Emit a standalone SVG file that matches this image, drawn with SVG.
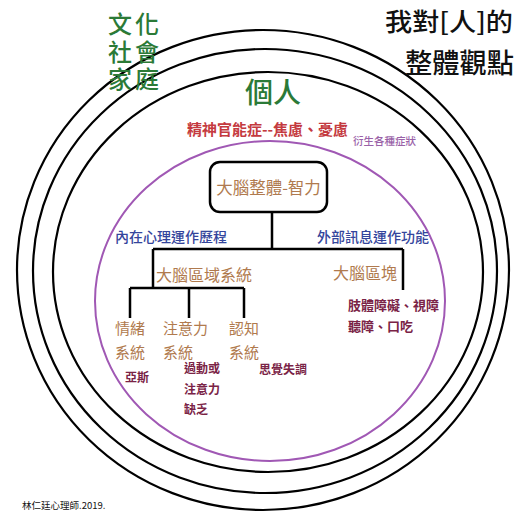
<svg xmlns="http://www.w3.org/2000/svg" width="526" height="526" viewBox="0 0 526 526">
<style>
text{font-family:"Noto Sans CJK TC","Noto Sans CJK SC",sans-serif}
.ring{fill:none;stroke:#000;stroke-width:2.2}
.inner{fill:none;stroke:#a058b4;stroke-width:2}
.ln{stroke:#000;stroke-width:2.5;fill:none}
.green{fill:#2b7a37;font-size:24px;font-weight:500;letter-spacing:3px}
.stack{font-family:"Liberation Sans","Noto Sans CJK TC","Noto Sans CJK SC",sans-serif}
.title{fill:#111;font-size:25px;font-weight:500}
.red{fill:#c43a3f;font-size:15px;font-weight:700}
.mauve{fill:#9a62a8;font-size:10.5px;font-weight:500}
.brown{fill:#b07a4e;font-size:16px}
.brown2{fill:#b07a4e;font-size:15px}
.navy{fill:#34459c;font-size:14px;font-weight:500}
.maroon{fill:#7a2346;font-size:12px;font-weight:700}
.maroon2{fill:#7a2346;font-size:13px;font-weight:700}
</style>
<rect width="526" height="526" fill="#fff"/>
<g id="rings">
<ellipse class="ring" cx="263" cy="270" rx="246" ry="240"/>
<ellipse class="ring" cx="265" cy="271" rx="232" ry="222"/>
<ellipse class="ring" cx="268" cy="272" rx="215" ry="200"/>
<ellipse class="inner" cx="270" cy="301" rx="175" ry="160"/>
</g>
<g id="culture">
<text class="green stack" x="108" y="33">文化</text>
<text class="green stack" x="108" y="60.5">社會</text>
<text class="green stack" x="108" y="88">家庭</text>
</g>
<g id="individual"><text class="green" x="245" y="103" style="font-size:28px;letter-spacing:0">個人</text></g>
<g id="title">
<text class="title" x="385" y="30.5" textLength="128" lengthAdjust="spacingAndGlyphs">我對[人]的</text>
<text class="title" x="405" y="72.5" style="font-size:27px" textLength="109" lengthAdjust="spacingAndGlyphs">整體觀點</text>
</g>
<g id="neurosis">
<text class="red" x="187" y="134.7">精神官能症--焦慮、憂慮</text>
<text class="mauve" x="353" y="145">衍生各種症狀</text>
</g>
<g id="connectors">
<path class="ln" d="M272 212V249M153 249H403M153 249V288M403 249V290M130 288H244M130 288V318M189 288V318M244 288V318"/>
</g>
<g id="brain-whole">
<rect x="210" y="162" width="117" height="50" rx="10" fill="#fff" stroke="#000" stroke-width="2.5"/>
<text class="brown" x="268.5" y="194" text-anchor="middle" style="font-size:16.5px">大腦整體-智力</text>
</g>
<g id="inner-process"><text class="navy" x="115" y="242.3">內在心理運作歷程</text></g>
<g id="outer-process"><text class="navy" x="317" y="242.3">外部訊息運作功能</text></g>
<g id="brain-systems"><text class="brown" x="156" y="281">大腦區域系統</text></g>
<g id="brain-blocks"><text class="brown" x="333" y="279">大腦區塊</text></g>
<g id="emotion">
<text class="brown2" x="115" y="333.5">情緒</text>
<text class="brown2" x="115" y="357.5">系統</text>
<text class="maroon" x="125" y="381.6">亞斯</text>
</g>
<g id="attention">
<text class="brown2" x="163" y="333.5">注意力</text>
<text class="brown2" x="163" y="357.5">系統</text>
<text class="maroon" x="184" y="372.6">過動或</text>
<text class="maroon" x="184" y="393.6">注意力</text>
<text class="maroon" x="184" y="413.6">缺乏</text>
</g>
<g id="cognition">
<text class="brown2" x="229" y="333.5">認知</text>
<text class="brown2" x="229" y="357.5">系統</text>
<text class="maroon" x="259" y="373.6">思覺失調</text>
</g>
<g id="disabilities">
<text class="maroon2" x="348" y="310">肢體障礙、視障</text>
<text class="maroon2" x="348" y="331">聽障、口吃</text>
</g>
<g id="credit"><text x="22" y="508.6" style="font-size:9.5px;fill:#111">林仁廷心理師.2019.</text></g>
</svg>
